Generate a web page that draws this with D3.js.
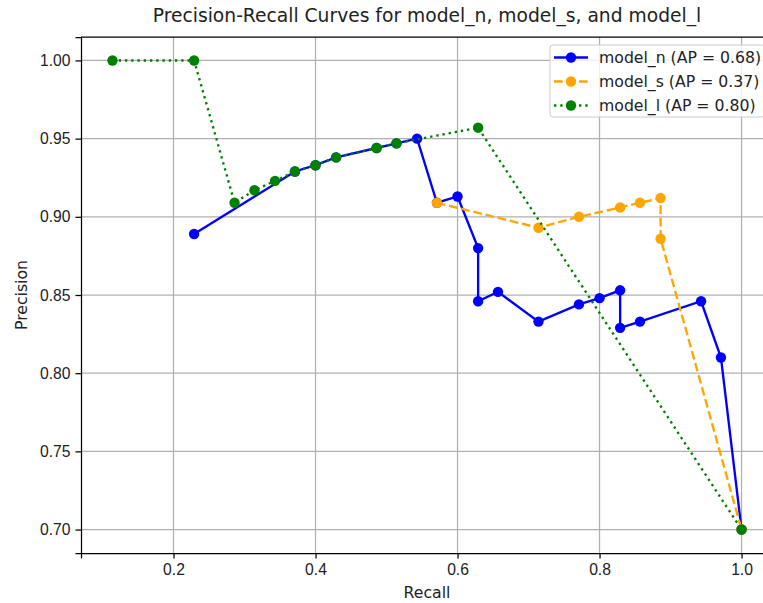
<!DOCTYPE html>
<html>
<head>
<meta charset="utf-8">
<script src="https://cdn.jsdelivr.net/npm/d3@7"></script>
<style>
  body { margin: 0; background: #fff; }
  svg { display: block; font-family: "DejaVu Sans", sans-serif; }
  .axis path, .axis line { stroke: #000; stroke-width: 1.25; }
  .axis text { fill: #222; font-size: 15.7px; }
  .grid line { stroke: #b0b0b0; stroke-width: 1.25; }
</style>
</head>
<body>
<div id="chart"></div>
<script>
// DATA
var xTicks = [0.2, 0.4, 0.6, 0.8, 1.0];
var yTicks = [0.70, 0.75, 0.80, 0.85, 0.90, 0.95, 1.00];

var recallN = [0.229, 0.371, 0.400, 0.429, 0.486, 0.514, 0.543, 0.571, 0.600, 0.629, 0.629,
  0.657, 0.714, 0.771, 0.800, 0.829, 0.829, 0.857, 0.943, 0.971, 1.000];
var precisionN = [0.889, 0.929, 0.933, 0.938, 0.944, 0.947, 0.950, 0.909, 0.913, 0.880, 0.846,
  0.852, 0.833, 0.844, 0.848, 0.853, 0.829, 0.833, 0.846, 0.810, 0.700];

var recallS = [0.571, 0.714, 0.771, 0.829, 0.857, 0.886, 0.886, 1.000];
var precisionS = [0.909, 0.893, 0.900, 0.906, 0.909, 0.912, 0.886, 0.700];

var recallL = [0.114, 0.229, 0.286, 0.314, 0.343, 0.371, 0.400, 0.429, 0.486, 0.514, 0.629, 1.000];
var precisionL = [1.000, 1.000, 0.909, 0.917, 0.923, 0.929, 0.933, 0.938, 0.944, 0.947, 0.957, 0.700];

var seriesNames = ["model_n (AP = 0.68)", "model_s (AP = 0.37)", "model_l (AP = 0.80)"];

// SETUP
(function () {
  var width = 763, height = 603,
    margin = { top: 37, right: -10, bottom: 50, left: 81 },
    w = width - margin.left - margin.right,
    h = height - margin.top - margin.bottom;

  var series = [
    { name: seriesNames[0], xs: recallN, ys: precisionN, color: "blue", dash: null },
    { name: seriesNames[1], xs: recallS, ys: precisionS, color: "orange", dash: "8.7,3.8" },
    { name: seriesNames[2], xs: recallL, ys: precisionL, color: "green", dash: "2.35,3.9" }
  ];

  // matplotlib style 5% padding
  var allX = recallN.concat(recallS, recallL),
    allY = precisionN.concat(precisionS, precisionL);
  var xe = d3.extent(allX), ye = d3.extent(allY);
  var xp = (xe[1] - xe[0]) * 0.05, yp = (ye[1] - ye[0]) * 0.05;

  var x = d3.scaleLinear().domain([xe[0] - xp, xe[1] + xp]).range([0, w]);
  var y = d3.scaleLinear().domain([ye[0] - yp, ye[1] + yp]).range([h, 0]);

  var svg = d3.select("#chart").append("svg")
    .attr("width", width)
    .attr("height", height);

  var g = svg.append("g")
    .attr("transform", "translate(" + margin.left + "," + margin.top + ")");

  // GRID
  g.append("g").attr("class", "grid")
    .selectAll("line.gx").data(xTicks).enter().append("line")
    .attr("x1", function (d) { return x(d); })
    .attr("x2", function (d) { return x(d); })
    .attr("y1", 0).attr("y2", h);

  g.append("g").attr("class", "grid")
    .selectAll("line.gy").data(yTicks).enter().append("line")
    .attr("y1", function (d) { return y(d); })
    .attr("y2", function (d) { return y(d); })
    .attr("x1", 0).attr("x2", w);

  // LINES
  var line = d3.line()
    .x(function (d) { return x(d[0]); })
    .y(function (d) { return y(d[1]); });

  series.forEach(function (s) {
    var pts = s.xs.map(function (v, i) { return [v, s.ys[i]]; });
    g.append("path")
      .datum(pts)
      .attr("fill", "none")
      .attr("stroke", s.color)
      .attr("stroke-width", 2.35)
      .attr("stroke-dasharray", s.dash)
      .attr("d", line);
    g.selectAll(null).data(pts).enter().append("circle")
      .attr("cx", function (d) { return x(d[0]); })
      .attr("cy", function (d) { return y(d[1]); })
      .attr("r", 5.2)
      .attr("fill", s.color);
  });

  // AXES
  g.append("g")
    .attr("class", "axis axis--x")
    .attr("transform", "translate(0," + h + ")")
    .call(d3.axisBottom(x).tickValues(xTicks).tickFormat(d3.format(".1f")).tickSizeOuter(0).tickSize(5.5).tickPadding(5));

  g.append("g")
    .attr("class", "axis axis--y")
    .call(d3.axisLeft(y).tickValues(yTicks).tickFormat(d3.format(".2f")).tickSizeOuter(0).tickSize(5.5).tickPadding(5));

  // top/right frame
  g.append("line").attr("x1", 0).attr("x2", w).attr("y1", 0).attr("y2", 0)
    .attr("stroke", "#000").attr("stroke-width", 1.25);
  g.append("line").attr("x1", w).attr("x2", w).attr("y1", 0).attr("y2", h)
    .attr("stroke", "#000").attr("stroke-width", 1.25);

  // LABELS
  svg.append("text")
    .attr("x", margin.left + w / 2)
    .attr("y", 22)
    .attr("text-anchor", "middle")
    .attr("fill", "#222")
    .style("font-size", "18.7px")
    .text("Precision-Recall Curves for model_n, model_s, and model_l");

  svg.append("text")
    .attr("x", margin.left + w / 2)
    .attr("y", 598)
    .attr("text-anchor", "middle")
    .attr("fill", "#222")
    .style("font-size", "15.7px")
    .text("Recall");

  svg.append("text")
    .attr("transform", "translate(27," + (margin.top + h / 2) + ") rotate(-90)")
    .attr("text-anchor", "middle")
    .attr("fill", "#222")
    .style("font-size", "15.7px")
    .text("Precision");

  // LEGEND
  var leg = svg.append("g").attr("transform", "translate(550,45)");
  leg.append("rect")
    .attr("width", 215).attr("height", 72)
    .attr("rx", 3)
    .attr("fill", "#fff").attr("fill-opacity", 0.8)
    .attr("stroke", "#ccc");

  var rows = leg.selectAll(".row").data(series).enter().append("g")
    .attr("class", "row")
    .attr("transform", function (d, i) { return "translate(0," + (12.5 + i * 24) + ")"; });
  rows.append("line")
    .attr("x1", 4).attr("x2", 38)
    .attr("stroke", function (d) { return d.color; })
    .attr("stroke-width", 2.35)
    .attr("stroke-dasharray", function (d) { return d.dash; });
  rows.append("circle")
    .attr("cx", 21).attr("r", 5.2)
    .attr("fill", function (d) { return d.color; });
  rows.append("text")
    .attr("x", 49).attr("dy", "0.35em")
    .attr("fill", "#222")
    .style("font-size", "15.7px")
    .text(function (d) { return d.name; });
})();
</script>
</body>
</html>
